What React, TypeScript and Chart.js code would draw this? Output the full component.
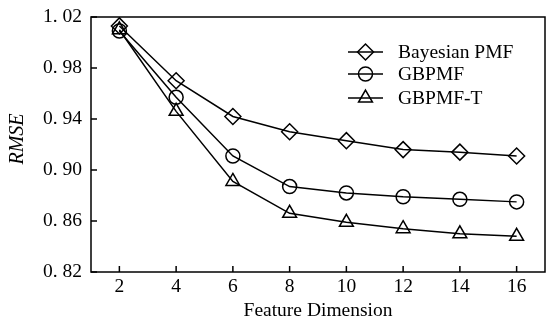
import React, { useEffect, useRef } from "react";
import { Chart, registerables } from "chart.js";
import { drawPoint } from "chart.js/helpers";

Chart.register(...registerables);

const featureDims = [2, 4, 6, 8, 10, 12, 14, 16];
const bayesianPMF = [1.013, 0.97, 0.942, 0.93, 0.923, 0.916, 0.914, 0.911];
const gbpmf = [1.009, 0.957, 0.911, 0.887, 0.882, 0.879, 0.877, 0.875];
const gbpmfT = [1.01, 0.946, 0.891, 0.866, 0.859, 0.854, 0.85, 0.848];
const seriesNames = ["Bayesian PMF", "GBPMF", "GBPMF-T"];
const xTicks = [2, 4, 6, 8, 10, 12, 14, 16];
const yTicks = [0.82, 0.86, 0.9, 0.94, 0.98, 1.02];
const xTitle = "Feature Dimension";
const yTitle = "RMSE";

const FONT = "'Liberation Serif', 'Times New Roman', serif";
const FS = 19.5;

const framePlugin = {
  id: "frameTicksLegend",
  afterDraw(chart: any) {
    const { ctx, chartArea } = chart;
    const { left, right, top, bottom } = chartArea;
    const xs = chart.scales.x;
    const ys = chart.scales.y;
    ctx.save();
    ctx.strokeStyle = "#000";
    ctx.lineWidth = 1.5;
    ctx.strokeRect(left, top, right - left, bottom - top);
    ctx.beginPath();
    xTicks.forEach((v) => {
      const px = xs.getPixelForValue(v);
      ctx.moveTo(px, bottom);
      ctx.lineTo(px, bottom - 6);
    });
    yTicks.forEach((v) => {
      const py = ys.getPixelForValue(v);
      ctx.moveTo(left, py);
      ctx.lineTo(left + 6, py);
    });
    ctx.stroke();

    // y-axis title
    ctx.save();
    ctx.translate(17.5, 139);
    ctx.rotate(-Math.PI / 2);
    ctx.fillStyle = "#000";
    ctx.font = `italic 20px ${FONT}`;
    ctx.textAlign = "center";
    ctx.textBaseline = "middle";
    ctx.fillText(yTitle, 0, 0);
    ctx.restore();

    // legend
    const rows = [52, 74, 98];
    chart.data.datasets.forEach((ds: any, i: number) => {
      const y = rows[i];
      ctx.beginPath();
      ctx.lineWidth = 1.5;
      ctx.strokeStyle = "#000";
      ctx.moveTo(348, y);
      ctx.lineTo(383, y);
      ctx.stroke();
      ctx.lineWidth = 1.5;
      ctx.fillStyle = "rgba(0,0,0,0)";
      drawPoint(
        ctx,
        { pointStyle: ds.pointStyle, radius: ds.pointRadius, rotation: 0, borderWidth: 1.5 },
        365.5,
        y
      );
      ctx.fillStyle = "#000";
      ctx.font = `${FS}px ${FONT}`;
      ctx.textAlign = "left";
      ctx.textBaseline = "middle";
      ctx.fillText(seriesNames[i], 398, y + 1);
    });
    ctx.restore();
  },
};

export default function App() {
  const ref = useRef<HTMLCanvasElement | null>(null);

  useEffect(() => {
    if (!ref.current) return;
    const mk = (label: string, data: number[], style: string, r: number) => ({
      label,
      data: featureDims.map((x, i) => ({ x, y: data[i] })),
      borderColor: "#000",
      borderWidth: 1.5,
      pointStyle: style,
      pointRadius: r,
      pointHoverRadius: r,
      pointBorderWidth: 1.5,
      pointBorderColor: "#000",
      pointBackgroundColor: "rgba(0,0,0,0)",
      backgroundColor: "rgba(0,0,0,0)",
      fill: false,
      tension: 0,
      clip: false,
    });
    const chart = new Chart(ref.current, {
      type: "line",
      data: {
        datasets: [
          mk(seriesNames[0], bayesianPMF, "rectRot", 8),
          mk(seriesNames[1], gbpmf, "circle", 7),
          mk(seriesNames[2], gbpmfT, "triangle", 8),
        ],
      },
      options: {
        animation: false,
        responsive: true,
        maintainAspectRatio: false,
        layout: { autoPadding: false, padding: { top: 17, right: 1, left: 0, bottom: 0 } },
        plugins: { legend: { display: false }, tooltip: { enabled: false } },
        scales: {
          x: {
            type: "linear",
            min: 1,
            max: 17,
            afterBuildTicks: (s: any) => {
              s.ticks = xTicks.map((value) => ({ value }));
            },
            afterFit: (s: any) => {
              s.height = 52;
              s.paddingLeft = 0;
              s.paddingRight = 0;
            },
            grid: { display: false, drawTicks: false },
            border: { display: false },
            ticks: {
              color: "#000",
              font: { family: FONT, size: FS },
              padding: 3,
              maxRotation: 0,
              callback: (v: any) => String(v),
            },
            title: {
              display: true,
              text: xTitle,
              color: "#000",
              font: { family: FONT, size: FS },
              padding: { top: 0, bottom: 1 },
            },
          },
          y: {
            type: "linear",
            min: 0.82,
            max: 1.02,
            afterBuildTicks: (s: any) => {
              s.ticks = yTicks.map((value) => ({ value }));
            },
            afterFit: (s: any) => {
              s.width = 91;
              s.paddingTop = 0;
              s.paddingBottom = 0;
            },
            grid: { display: false, drawTicks: false },
            border: { display: false },
            ticks: {
              color: "#000",
              font: { family: FONT, size: FS },
              padding: 9,
              callback: (v: any) => Number(v).toFixed(2).replace(".", ". "),
            },
            title: { display: false },
          },
        },
      },
      plugins: [framePlugin],
    });
    return () => chart.destroy();
  }, []);

  return (
    <div style={{ position: "fixed", left: 0, top: 0, width: 546, height: 324, background: "#fff" }}>
      <canvas ref={ref} />
    </div>
  );
}
